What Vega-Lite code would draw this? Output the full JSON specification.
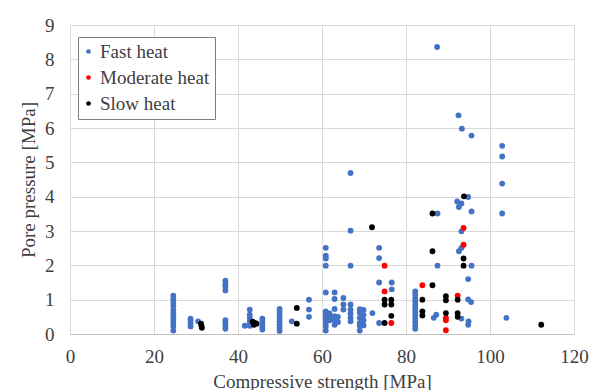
{
  "$schema": "https://vega.github.io/schema/vega-lite/v6.json",
  "autosize": {"type": "none"},
  "width": 504,
  "height": 309,
  "padding": {"left": 70, "top": 25, "right": 23, "bottom": 56},
  "background": "white",
  "config": {
    "font": "Liberation Serif",
    "view": {"stroke": null},
    "axis": {
      "labelFont": "Liberation Serif",
      "titleFont": "Liberation Serif",
      "labelFontSize": 19,
      "titleFontSize": 19,
      "titleFontWeight": "normal",
      "labelColor": "#404040",
      "titleColor": "#404040",
      "gridColor": "#d9d9d9",
      "gridWidth": 1,
      "ticks": false
    },
    "legend": {
      "labelFont": "Liberation Serif",
      "labelFontSize": 19,
      "labelColor": "#404040"
    }
  },
  "data": {
    "values": [
      {"s": "Fast heat", "x": 24.6, "y": 1.12},
      {"s": "Fast heat", "x": 24.6, "y": 1.02},
      {"s": "Fast heat", "x": 24.6, "y": 0.92},
      {"s": "Fast heat", "x": 24.6, "y": 0.82},
      {"s": "Fast heat", "x": 24.6, "y": 0.7},
      {"s": "Fast heat", "x": 24.6, "y": 0.6},
      {"s": "Fast heat", "x": 24.6, "y": 0.5},
      {"s": "Fast heat", "x": 24.6, "y": 0.42},
      {"s": "Fast heat", "x": 24.6, "y": 0.32},
      {"s": "Fast heat", "x": 24.6, "y": 0.22},
      {"s": "Fast heat", "x": 24.6, "y": 0.1},
      {"s": "Fast heat", "x": 28.7, "y": 0.45},
      {"s": "Fast heat", "x": 28.7, "y": 0.38},
      {"s": "Fast heat", "x": 28.7, "y": 0.3},
      {"s": "Fast heat", "x": 28.7, "y": 0.22},
      {"s": "Fast heat", "x": 30.5, "y": 0.37},
      {"s": "Fast heat", "x": 37.0, "y": 1.55},
      {"s": "Fast heat", "x": 37.0, "y": 1.45},
      {"s": "Fast heat", "x": 37.0, "y": 1.37},
      {"s": "Fast heat", "x": 37.0, "y": 1.27},
      {"s": "Fast heat", "x": 37.0, "y": 0.4},
      {"s": "Fast heat", "x": 37.0, "y": 0.32},
      {"s": "Fast heat", "x": 37.0, "y": 0.24},
      {"s": "Fast heat", "x": 37.0, "y": 0.15},
      {"s": "Fast heat", "x": 41.6, "y": 0.24},
      {"s": "Fast heat", "x": 42.8, "y": 0.71},
      {"s": "Fast heat", "x": 42.8, "y": 0.56},
      {"s": "Fast heat", "x": 42.8, "y": 0.47},
      {"s": "Fast heat", "x": 42.8, "y": 0.36},
      {"s": "Fast heat", "x": 42.8, "y": 0.24},
      {"s": "Fast heat", "x": 45.8, "y": 0.45},
      {"s": "Fast heat", "x": 45.8, "y": 0.37},
      {"s": "Fast heat", "x": 45.8, "y": 0.29},
      {"s": "Fast heat", "x": 45.8, "y": 0.21},
      {"s": "Fast heat", "x": 45.8, "y": 0.13},
      {"s": "Fast heat", "x": 49.9, "y": 0.73},
      {"s": "Fast heat", "x": 49.9, "y": 0.64},
      {"s": "Fast heat", "x": 49.9, "y": 0.55},
      {"s": "Fast heat", "x": 49.9, "y": 0.46},
      {"s": "Fast heat", "x": 49.9, "y": 0.37},
      {"s": "Fast heat", "x": 49.9, "y": 0.28},
      {"s": "Fast heat", "x": 49.9, "y": 0.18},
      {"s": "Fast heat", "x": 49.9, "y": 0.09},
      {"s": "Fast heat", "x": 52.8, "y": 0.37},
      {"s": "Fast heat", "x": 56.9, "y": 1.0},
      {"s": "Fast heat", "x": 56.9, "y": 0.71},
      {"s": "Fast heat", "x": 56.9, "y": 0.5},
      {"s": "Fast heat", "x": 60.9, "y": 2.51},
      {"s": "Fast heat", "x": 60.9, "y": 2.28},
      {"s": "Fast heat", "x": 60.9, "y": 2.2},
      {"s": "Fast heat", "x": 60.9, "y": 1.99},
      {"s": "Fast heat", "x": 60.9, "y": 1.21},
      {"s": "Fast heat", "x": 60.9, "y": 0.66},
      {"s": "Fast heat", "x": 60.9, "y": 0.59},
      {"s": "Fast heat", "x": 60.9, "y": 0.51},
      {"s": "Fast heat", "x": 60.9, "y": 0.42},
      {"s": "Fast heat", "x": 60.9, "y": 0.32},
      {"s": "Fast heat", "x": 60.9, "y": 0.22},
      {"s": "Fast heat", "x": 60.9, "y": 0.1},
      {"s": "Fast heat", "x": 61.8, "y": 0.6},
      {"s": "Fast heat", "x": 61.8, "y": 0.5},
      {"s": "Fast heat", "x": 61.8, "y": 0.4},
      {"s": "Fast heat", "x": 63.0, "y": 1.21},
      {"s": "Fast heat", "x": 63.0, "y": 1.02},
      {"s": "Fast heat", "x": 63.0, "y": 0.73},
      {"s": "Fast heat", "x": 63.0, "y": 0.52},
      {"s": "Fast heat", "x": 63.0, "y": 0.4},
      {"s": "Fast heat", "x": 63.0, "y": 0.27},
      {"s": "Fast heat", "x": 63.8, "y": 0.5},
      {"s": "Fast heat", "x": 63.8, "y": 0.35},
      {"s": "Fast heat", "x": 65.1, "y": 1.05},
      {"s": "Fast heat", "x": 65.1, "y": 0.86},
      {"s": "Fast heat", "x": 65.1, "y": 0.71},
      {"s": "Fast heat", "x": 66.8, "y": 4.69},
      {"s": "Fast heat", "x": 66.8, "y": 3.01},
      {"s": "Fast heat", "x": 66.8, "y": 1.99},
      {"s": "Fast heat", "x": 66.8, "y": 0.86},
      {"s": "Fast heat", "x": 66.8, "y": 0.71},
      {"s": "Fast heat", "x": 66.8, "y": 0.59},
      {"s": "Fast heat", "x": 66.8, "y": 0.47},
      {"s": "Fast heat", "x": 66.8, "y": 0.37},
      {"s": "Fast heat", "x": 69.0, "y": 0.72},
      {"s": "Fast heat", "x": 69.0, "y": 0.62},
      {"s": "Fast heat", "x": 69.0, "y": 0.47},
      {"s": "Fast heat", "x": 69.0, "y": 0.32},
      {"s": "Fast heat", "x": 69.0, "y": 0.23},
      {"s": "Fast heat", "x": 69.0, "y": 0.1},
      {"s": "Fast heat", "x": 69.9, "y": 0.7},
      {"s": "Fast heat", "x": 69.9, "y": 0.55},
      {"s": "Fast heat", "x": 69.9, "y": 0.4},
      {"s": "Fast heat", "x": 69.9, "y": 0.25},
      {"s": "Fast heat", "x": 72.0, "y": 0.61},
      {"s": "Fast heat", "x": 73.6, "y": 2.51},
      {"s": "Fast heat", "x": 73.6, "y": 2.21},
      {"s": "Fast heat", "x": 73.6, "y": 1.5},
      {"s": "Fast heat", "x": 73.6, "y": 0.32},
      {"s": "Fast heat", "x": 76.6, "y": 1.5},
      {"s": "Fast heat", "x": 76.6, "y": 1.3},
      {"s": "Fast heat", "x": 82.2, "y": 1.24},
      {"s": "Fast heat", "x": 82.2, "y": 1.15},
      {"s": "Fast heat", "x": 82.2, "y": 1.05},
      {"s": "Fast heat", "x": 82.2, "y": 0.95},
      {"s": "Fast heat", "x": 82.2, "y": 0.85},
      {"s": "Fast heat", "x": 82.2, "y": 0.75},
      {"s": "Fast heat", "x": 82.2, "y": 0.65},
      {"s": "Fast heat", "x": 82.2, "y": 0.55},
      {"s": "Fast heat", "x": 82.2, "y": 0.45},
      {"s": "Fast heat", "x": 82.2, "y": 0.35},
      {"s": "Fast heat", "x": 82.2, "y": 0.25},
      {"s": "Fast heat", "x": 82.2, "y": 0.15},
      {"s": "Fast heat", "x": 86.6, "y": 0.47},
      {"s": "Fast heat", "x": 87.2, "y": 0.56},
      {"s": "Fast heat", "x": 87.4, "y": 8.36},
      {"s": "Fast heat", "x": 87.5, "y": 3.51},
      {"s": "Fast heat", "x": 87.5, "y": 1.99},
      {"s": "Fast heat", "x": 92.5, "y": 6.37},
      {"s": "Fast heat", "x": 92.2, "y": 3.86},
      {"s": "Fast heat", "x": 93.3, "y": 5.98},
      {"s": "Fast heat", "x": 93.2, "y": 3.8},
      {"s": "Fast heat", "x": 93.2, "y": 2.99},
      {"s": "Fast heat", "x": 93.2, "y": 2.51},
      {"s": "Fast heat", "x": 92.6, "y": 3.7},
      {"s": "Fast heat", "x": 92.6, "y": 2.41},
      {"s": "Fast heat", "x": 95.6, "y": 5.78},
      {"s": "Fast heat", "x": 95.6, "y": 3.57},
      {"s": "Fast heat", "x": 95.6, "y": 1.99},
      {"s": "Fast heat", "x": 95.5, "y": 0.93},
      {"s": "Fast heat", "x": 94.8, "y": 3.99},
      {"s": "Fast heat", "x": 94.8, "y": 1.6},
      {"s": "Fast heat", "x": 94.8, "y": 1.01},
      {"s": "Fast heat", "x": 94.9, "y": 0.37},
      {"s": "Fast heat", "x": 94.8, "y": 0.27},
      {"s": "Fast heat", "x": 93.2, "y": 0.45},
      {"s": "Fast heat", "x": 102.9, "y": 5.48},
      {"s": "Fast heat", "x": 102.9, "y": 5.17},
      {"s": "Fast heat", "x": 102.9, "y": 4.38},
      {"s": "Fast heat", "x": 102.9, "y": 3.51},
      {"s": "Fast heat", "x": 103.9, "y": 0.47},
      {"s": "Moderate heat", "x": 74.9, "y": 1.99},
      {"s": "Moderate heat", "x": 74.9, "y": 1.24},
      {"s": "Moderate heat", "x": 76.5, "y": 0.32},
      {"s": "Moderate heat", "x": 83.9, "y": 1.42},
      {"s": "Moderate heat", "x": 89.5, "y": 0.47},
      {"s": "Moderate heat", "x": 89.5, "y": 0.4},
      {"s": "Moderate heat", "x": 89.5, "y": 0.11},
      {"s": "Moderate heat", "x": 92.3, "y": 1.12},
      {"s": "Moderate heat", "x": 93.7, "y": 3.09},
      {"s": "Moderate heat", "x": 93.7, "y": 2.6},
      {"s": "Slow heat", "x": 31.2, "y": 0.3},
      {"s": "Slow heat", "x": 31.3, "y": 0.24},
      {"s": "Slow heat", "x": 31.4, "y": 0.18},
      {"s": "Slow heat", "x": 43.5, "y": 0.36},
      {"s": "Slow heat", "x": 44.0, "y": 0.32},
      {"s": "Slow heat", "x": 44.4, "y": 0.3},
      {"s": "Slow heat", "x": 43.8, "y": 0.27},
      {"s": "Slow heat", "x": 54.0, "y": 0.76},
      {"s": "Slow heat", "x": 54.0, "y": 0.3},
      {"s": "Slow heat", "x": 71.9, "y": 3.11},
      {"s": "Slow heat", "x": 74.9, "y": 1.0},
      {"s": "Slow heat", "x": 74.9, "y": 0.86},
      {"s": "Slow heat", "x": 74.9, "y": 0.32},
      {"s": "Slow heat", "x": 76.5, "y": 1.0},
      {"s": "Slow heat", "x": 76.5, "y": 0.86},
      {"s": "Slow heat", "x": 76.5, "y": 0.53},
      {"s": "Slow heat", "x": 83.9, "y": 1.0},
      {"s": "Slow heat", "x": 83.9, "y": 0.66},
      {"s": "Slow heat", "x": 83.9, "y": 0.54},
      {"s": "Slow heat", "x": 86.3, "y": 3.51},
      {"s": "Slow heat", "x": 86.3, "y": 2.41},
      {"s": "Slow heat", "x": 86.3, "y": 1.42},
      {"s": "Slow heat", "x": 89.5, "y": 1.1},
      {"s": "Slow heat", "x": 89.5, "y": 0.98},
      {"s": "Slow heat", "x": 89.5, "y": 0.61},
      {"s": "Slow heat", "x": 92.3, "y": 1.0},
      {"s": "Slow heat", "x": 92.3, "y": 0.61},
      {"s": "Slow heat", "x": 92.3, "y": 0.5},
      {"s": "Slow heat", "x": 93.8, "y": 4.01},
      {"s": "Slow heat", "x": 93.7, "y": 2.2},
      {"s": "Slow heat", "x": 93.7, "y": 1.99},
      {"s": "Slow heat", "x": 112.2, "y": 0.27}
    ]
  },
  "mark": {"type": "point", "filled": true, "opacity": 1, "size": 34},
  "encoding": {
    "x": {
      "field": "x",
      "type": "quantitative",
      "scale": {"domain": [0, 120], "nice": false, "zero": false},
      "axis": {
        "values": [0, 20, 40, 60, 80, 100, 120],
        "title": "Compressive strength [MPa]",
        "labelPadding": 13,
        "labelFlush": false,
        "labelOverlap": false,
        "domainColor": "#bfbfbf",
        "domainWidth": 1,
        "titleY": 47,
        "titleBaseline": "middle"
      }
    },
    "y": {
      "field": "y",
      "type": "quantitative",
      "scale": {"domain": [0, 9], "nice": false, "zero": false},
      "axis": {
        "values": [0, 1, 2, 3, 4, 5, 6, 7, 8, 9],
        "title": "Pore pressure [MPa]",
        "labelPadding": 16,
        "labelFlush": false,
        "labelOverlap": false,
        "domain": false,
        "titleX": -42,
        "titleY": 154.5,
        "titleBaseline": "middle",
        "titleAlign": "center",
        "titleAngle": -90
      }
    },
    "color": {
      "field": "s",
      "type": "nominal",
      "scale": {
        "domain": ["Fast heat", "Moderate heat", "Slow heat"],
        "range": ["#4472C4", "#FF0000", "#000000"]
      },
      "legend": {
        "title": null,
        "orient": "none",
        "legendX": 8,
        "legendY": 12,
        "symbolType": "circle",
        "symbolSize": 22,
        "symbolStrokeWidth": 0,
        "symbolOffset": -4,
        "labelOffset": 2,
        "rowPadding": 6,
        "padding": 5,
        "strokeColor": "#7f7f7f",
        "fillColor": "white",
        "cornerRadius": 0
      }
    }
  }
}
